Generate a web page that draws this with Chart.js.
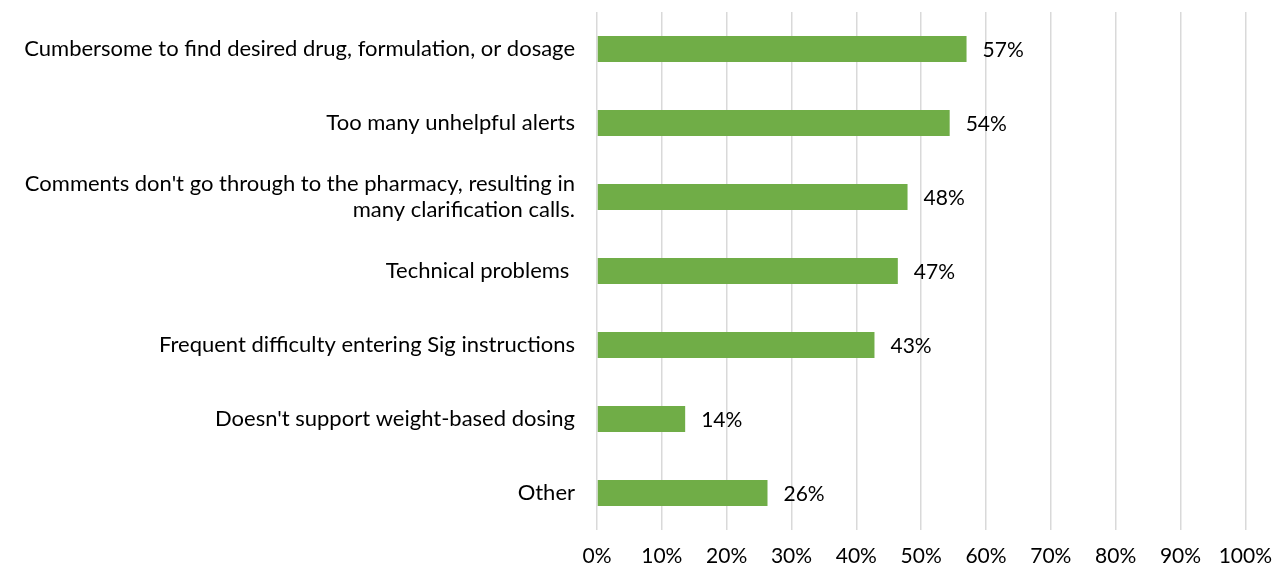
<!DOCTYPE html>
<html>
<head>
<meta charset="utf-8">
<script src="https://cdn.jsdelivr.net/npm/chart.js@4/dist/chart.umd.min.js"></script>
<style>
    html, body { margin: 0; padding: 0; background: #fff; }
    #wrap { width: 1286px; height: 573px; }
</style>
</head>
<body>
<div id="wrap"><canvas id="chart"></canvas></div>
<script>
const categories = [
    'Cumbersome to find desired drug, formulation, or dosage',
    'Too many unhelpful alerts',
    ["Comments don't go through to the pharmacy, resulting in", 'many clarification calls.'],
    'Technical problems ',
    'Frequent difficulty entering Sig instructions',
    "Doesn't support weight-based dosing",
    'Other'
];
const percentValues = [57, 54.4, 47.9, 46.4, 42.8, 13.6, 26.3];
const valueLabels = ['57%', '54%', '48%', '47%', '43%', '14%', '26%'];
const xTicks = [0, 10, 20, 30, 40, 50, 60, 70, 80, 90, 100];

const FONT = 'Lato, "Open Sans", sans-serif';

// draw the percentage text just right of each bar
const barLabels = {
    id: 'barLabels',
    afterDatasetsDraw(chart) {
        const ctx = chart.ctx;
        const meta = chart.getDatasetMeta(0);
        ctx.save();
        ctx.font = '21px ' + FONT;
        ctx.fillStyle = '#000';
        ctx.textBaseline = 'middle';
        ctx.textAlign = 'left';
        meta.data.forEach((bar, i) => {
            ctx.fillText(valueLabels[i], bar.x + 16, bar.y + 1);
        });
        ctx.restore();
    }
};

new Chart(document.getElementById('chart'), {
    type: 'bar',
    data: {
        labels: categories,
        datasets: [{
            data: percentValues,
            backgroundColor: '#70ad47',
            borderWidth: 0,
            barPercentage: 0.7,
            categoryPercentage: 0.5
        }]
    },
    options: {
        indexAxis: 'y',
        responsive: true,
        maintainAspectRatio: false,
        animation: false,
        layout: { padding: { top: 12, right: 40, bottom: 3, left: 0 } },
        plugins: {
            legend: { display: false },
            tooltip: { enabled: false }
        },
        scales: {
            x: {
                min: 0,
                max: 100,
                afterBuildTicks: (scale) => {
                    scale.ticks = xTicks.map(v => ({ value: v }));
                },
                afterFit: (scale) => {
                    scale.height = 40;
                    scale.paddingTop = 0;
                    scale.paddingBottom = 0;
                },
                grid: { color: '#d9d9d9', lineWidth: 1.5, drawTicks: false },
                border: { display: false },
                ticks: {
                    padding: 14,
                    color: '#000',
                    font: { family: FONT, size: 21, lineHeight: 1.2 },
                    callback: (v) => v + '%'
                }
            },
            y: {
                grid: { display: false, drawTicks: false },
                border: { display: false },
                afterFit: (scale) => {
                    scale.width = 597;
                    // no extra room above/below for the category labels
                    scale.paddingTop = 0;
                    scale.paddingBottom = 0;
                },
                ticks: {
                    padding: 22,
                    color: '#000',
                    font: { family: FONT, size: 22, lineHeight: 1.2 }
                }
            }
        }
    },
    plugins: [barLabels]
});
</script>
</body>
</html>
